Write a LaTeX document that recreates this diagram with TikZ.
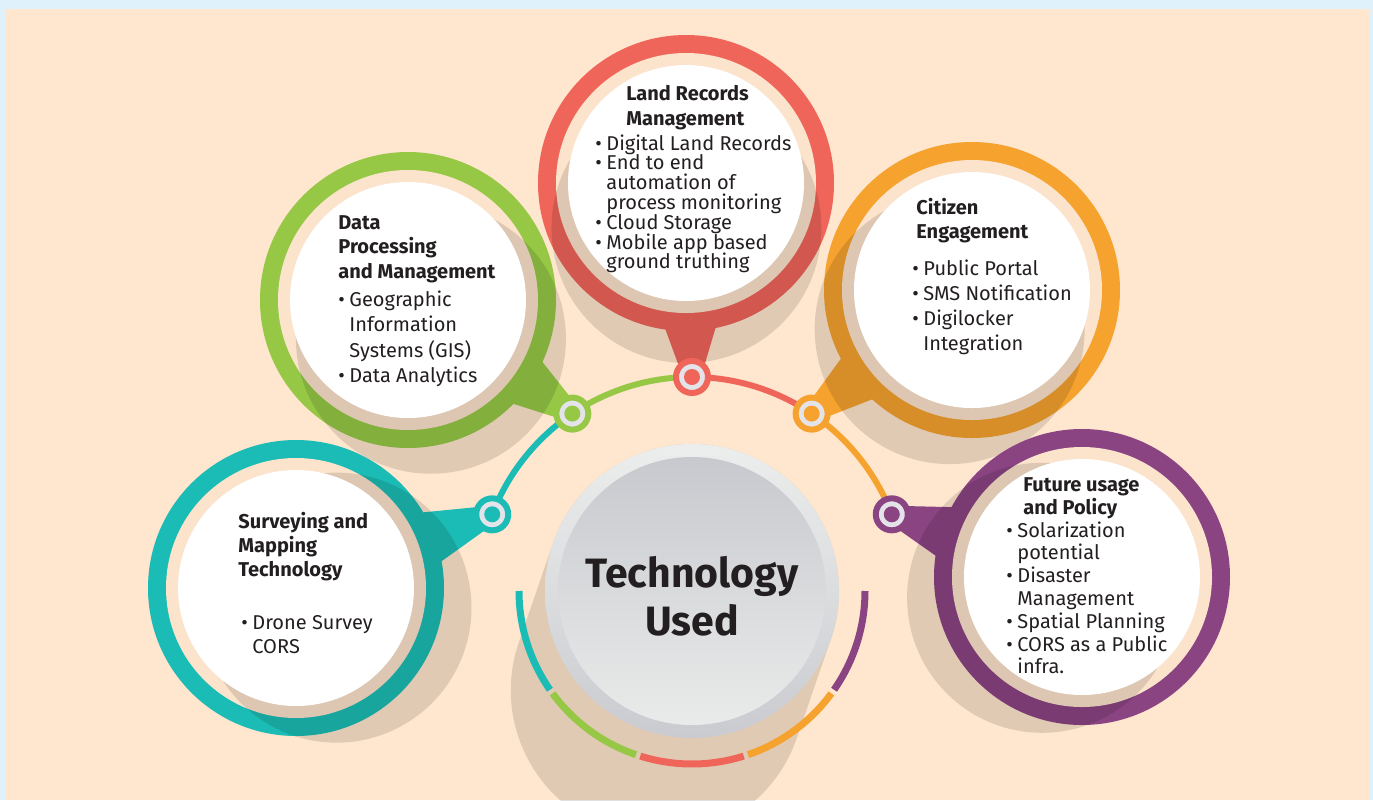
\documentclass[tikz,border=0pt]{standalone}
\usepackage{fontspec}
\setmainfont{Fira Sans}
\usetikzlibrary{calc}

\definecolor{frame}{HTML}{DFF2FB}
\definecolor{peach}{HTML}{FFE6CE}
\definecolor{band}{HTML}{FCE3CB}
\definecolor{tealc}{HTML}{1BBCB5}
\definecolor{greenc}{HTML}{96C846}
\definecolor{redc}{HTML}{F0655A}
\definecolor{orangec}{HTML}{F5A22F}
\definecolor{purplec}{HTML}{8A4482}
\definecolor{ringgray}{HTML}{E4E3EA}
\definecolor{ink}{HTML}{231F20}
\definecolor{rimtop}{HTML}{ECEEED}
\definecolor{rimbot}{HTML}{CACBD0}
\definecolor{disktop}{HTML}{C8C9CE}
\definecolor{diskbot}{HTML}{E9EBEA}

\newcommand{\bul}{\makebox[5.5pt][l]{\textbullet}}
\newcommand{\cont}{\hspace*{5.5pt}}

\begin{document}
\begin{tikzpicture}[x=0.5pt, y=-0.5pt,
  balloon/.style={circle, inner sep=0pt, minimum size=148pt, fill=#1},
  marker/.style={circle, inner sep=0pt, minimum size=16pt, fill=ringgray, draw=#1, line width=3pt,
    path picture={\fill[#1] (path picture bounding box.center) circle (4pt);}},
  castshadow/.style={fill=black, fill opacity=0.12},
  track/.style={line width=3pt},
  rim/.style={line width=3.5pt},
  headtext/.style={anchor=base west, inner sep=0pt, text=ink, font=\bfseries\fontsize{10}{#1}\selectfont},
  listtext/.style={anchor=base west, inner sep=0pt, text=ink, font=\fontsize{10}{#1}\selectfont}]

  \useasboundingbox (0,0) rectangle (1373,800);
  \clip (0,0) rectangle (1373,800);
  \fill[frame] (0,0) rectangle (1373,800);
  \fill[peach] (6,9) rectangle (1369,800);

  \coordinate (hub) at (692,591);
  \coordinate (sink) at (692,780);
  \fill[castshadow] (hub) ++(199:147) arc[start angle=199, end angle=379, radius=147] -- ++(109:105) arc[start angle=19, end angle=199, radius=147] -- cycle;

  \coordinate (pteal) at ($(hub)+(-159:214)$);
  \coordinate (pgreen) at ($(hub)+(-124:214)$);
  \coordinate (pred) at ($(hub)+(-90:214)$);
  \coordinate (porange) at ($(hub)+(-56:214)$);
  \coordinate (ppurple) at ($(hub)+(-21:214)$);

  \draw[track, tealc] (pteal) arc[start angle=-159, end angle=-124, radius=214];
  \draw[track, greenc] (pgreen) arc[start angle=-124, end angle=-90, radius=214];
  \draw[track, redc] (pred) arc[start angle=-90, end angle=-56, radius=214];
  \draw[track, orangec] (porange) arc[start angle=-56, end angle=-21, radius=214];

  \node[balloon=tealc] (teal) at (296,588) {};
  \fill[tealc] ($(teal.center)!67pt!-13:(pteal)$) -- ($(pteal)!4.5pt!90:(teal.center)$) -- ($(pteal)!4.5pt!-90:(teal.center)$) -- ($(teal.center)!67pt!13:(pteal)$) -- cycle;
  \fill[band] (teal.center) circle (130);
  \fill[castshadow] ($(teal.center)!22.5pt!(sink)$) circle (135);
  \fill[white] (teal.center) circle (118);

  \node[balloon=greenc] (green) at (408,300) {};
  \fill[greenc] ($(green.center)!67pt!-13:(pgreen)$) -- ($(pgreen)!4.5pt!90:(green.center)$) -- ($(pgreen)!4.5pt!-90:(green.center)$) -- ($(green.center)!67pt!13:(pgreen)$) -- cycle;
  \fill[band] (green.center) circle (130);
  \fill[castshadow] ($(green.center)!22.5pt!(sink)$) circle (135);
  \fill[white] (green.center) circle (118);

  \node[balloon=redc] (red) at (686,183) {};
  \fill[redc] ($(red.center)!67pt!-13:(pred)$) -- ($(pred)!4.5pt!90:(red.center)$) -- ($(pred)!4.5pt!-90:(red.center)$) -- ($(red.center)!67pt!13:(pred)$) -- cycle;
  \fill[band] (red.center) circle (130);
  \fill[castshadow] ($(red.center)!22.5pt!(sink)$) circle (135);
  \fill[white] (red.center) circle (118);

  \node[balloon=orangec] (orange) at (972,290) {};
  \fill[orangec] ($(orange.center)!67pt!-13:(porange)$) -- ($(porange)!4.5pt!90:(orange.center)$) -- ($(porange)!4.5pt!-90:(orange.center)$) -- ($(orange.center)!67pt!13:(porange)$) -- cycle;
  \fill[band] (orange.center) circle (130);
  \fill[castshadow] ($(orange.center)!22.5pt!(sink)$) circle (135);
  \fill[white] (orange.center) circle (118);

  \node[balloon=purplec] (purple) at (1082,577) {};
  \fill[purplec] ($(purple.center)!67pt!-13:(ppurple)$) -- ($(ppurple)!4.5pt!90:(purple.center)$) -- ($(ppurple)!4.5pt!-90:(purple.center)$) -- ($(purple.center)!67pt!13:(ppurple)$) -- cycle;
  \fill[band] (purple.center) circle (130);
  \fill[castshadow] ($(purple.center)!22.5pt!(sink)$) circle (135);
  \fill[white] (purple.center) circle (118);

  \node[marker=tealc] (mteal) at (pteal) {};
  \node[marker=greenc] (mgreen) at (pgreen) {};
  \node[marker=redc] (mred) at (pred) {};
  \node[marker=orangec] (morange) at (porange) {};
  \node[marker=purplec] (mpurple) at (ppurple) {};

  \node[circle, inner sep=0pt, minimum size=147pt, top color=rimtop, bottom color=rimbot] (core) at (hub) {};
  \node[circle, inner sep=0pt, minimum size=134pt, top color=disktop, bottom color=diskbot] (disk) at (hub) {};
  \draw[rim, tealc] (core.center) ++(145.2:173) arc[start angle=145.2, end angle=180, radius=173];
  \draw[rim, greenc] (core.center) ++(108.9:173) arc[start angle=108.9, end angle=143.7, radius=173];
  \draw[rim, redc] (core.center) ++(72.6:173) arc[start angle=72.6, end angle=107.4, radius=173];
  \draw[rim, orangec] (core.center) ++(36.3:173) arc[start angle=36.3, end angle=71.1, radius=173];
  \draw[rim, purplec] (core.center) ++(0:173) arc[start angle=0, end angle=34.8, radius=173];
  \node[text=ink, align=center, font=\bfseries\fontsize{20.5}{24}\selectfont] (coretext) at (692,596) {Technology\\Used};

  \node[headtext=12pt] (tealhead) at (238,528) {\begin{tabular}[t]{@{}l@{}}Surveying and\\Mapping\\Technology\end{tabular}};
  \node[listtext=12pt] (teallist) at (241,629) {\begin{tabular}[t]{@{}l@{}l@{}}\bul & Drone Survey\\ & CORS\end{tabular}};

  \node[headtext=12.25pt] (greenhead) at (338,229) {\begin{tabular}[t]{@{}l@{}}Data\\Processing\\and Management\end{tabular}};
  \node[listtext=12.8pt] (greenlist) at (338,306) {\begin{tabular}[t]{@{}l@{}l@{}}\bul & Geographic\\ & Information\\ & Systems (GIS)\\\bul & Data Analytics\end{tabular}};

  \node[headtext=12.5pt] (redhead) at (626,100) {\begin{tabular}[t]{@{}l@{}}Land Records\\Management\end{tabular}};
  \node[listtext=9.9pt] (redlist) at (595,150) {\vtop{\lineskiplimit=-10pt\relax
    \hbox{\bul Digital Land Records}\hbox{\bul End to end}\hbox{\cont automation of}\hbox{\cont process monitoring}
    \hbox{\bul Cloud Storage}\hbox{\bul Mobile app based}\hbox{\cont ground truthing}}};

  \node[headtext=12pt] (orangehead) at (916,214) {\begin{tabular}[t]{@{}l@{}}Citizen\\Engagement\end{tabular}};
  \node[listtext=12.6pt] (orangelist) at (912,275) {\begin{tabular}[t]{@{}l@{}l@{}}\bul & Public Portal\\\bul & SMS Notification\\\bul & Digilocker\\ & Integration\end{tabular}};

  \node[headtext=11.5pt] (purplehead) at (1023,491) {\begin{tabular}[t]{@{}l@{}}Future usage\\and Policy\end{tabular}};
  \node[listtext=11.4pt] (purplelist) at (1006,537) {\begin{tabular}[t]{@{}l@{}l@{}}\bul & Solarization\\ & potential\\\bul & Disaster\\ & Management\\\bul & Spatial Planning\\\bul & CORS as a Public\\ & infra.\end{tabular}};
\end{tikzpicture}
\end{document}
